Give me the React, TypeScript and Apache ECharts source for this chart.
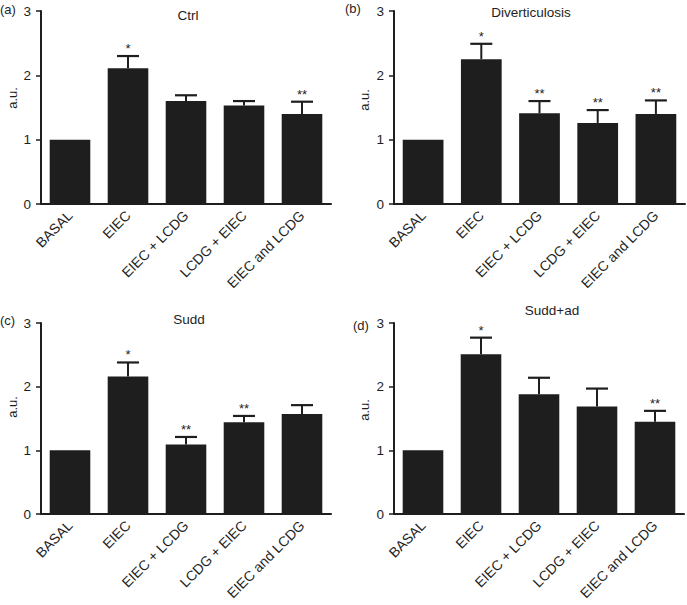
import React, { useEffect, useRef } from "react";
import * as echarts from "echarts";

const categories = ["BASAL", "EIEC", "EIEC + LCDG", "LCDG + EIEC", "EIEC and LCDG"];
const yTicks = [0, 1, 2, 3];

const panelLetters = ["(a)", "(b)", "(c)", "(d)"];
const panelTitles = ["Ctrl", "Diverticulosis", "Sudd", "Sudd+ad"];

const ctrlMean = [1.0, 2.11, 1.6, 1.53, 1.4];
const ctrlErr = [0, 0.19, 0.09, 0.07, 0.19];
const ctrlSig = ["", "*", "", "", "**"];

const divMean = [1.0, 2.25, 1.41, 1.26, 1.4];
const divErr = [0, 0.24, 0.19, 0.2, 0.21];
const divSig = ["", "*", "**", "**", "**"];

const suddMean = [1.0, 2.16, 1.09, 1.44, 1.57];
const suddErr = [0, 0.22, 0.12, 0.1, 0.14];
const suddSig = ["", "*", "**", "**", ""];

const suddAdMean = [1.0, 2.51, 1.88, 1.69, 1.45];
const suddAdErr = [0, 0.26, 0.26, 0.28, 0.17];
const suddAdSig = ["", "*", "", "", "**"];

const FONT = "'Liberation Sans', Arial, sans-serif";
const INK = "#1e1e1e";

export default function App() {
  const ref = useRef<HTMLDivElement>(null);

  useEffect(() => {
    document.body.style.margin = "0";
    if (!ref.current) return;
    const chart = echarts.init(ref.current, undefined, { renderer: "svg" });

    const panels = [
      { mean: ctrlMean, err: ctrlErr, sig: ctrlSig },
      { mean: divMean, err: divErr, sig: divSig },
      { mean: suddMean, err: suddErr, sig: suddSig },
      { mean: suddAdMean, err: suddAdErr, sig: suddAdSig },
    ];

    const grids = [
      { left: 41, top: 11, width: 290, height: 193 },
      { left: 394, top: 11, width: 291, height: 193 },
      { left: 41, top: 323, width: 290, height: 191 },
      { left: 394, top: 323, width: 290, height: 191 },
    ];

    const titlePos = [
      [188, 15],
      [531, 12],
      [189, 319],
      [552, 310],
    ];
    const letterPos = [
      [0, 9],
      [345, 8],
      [0, 320],
      [353, 325],
    ];
    const auPos = [
      [12, 98],
      [364, 100],
      [12, 407],
      [364, 410],
    ];

    const series: any[] = [];
    panels.forEach((p, k) => {
      series.push({
        type: "bar",
        xAxisIndex: k,
        yAxisIndex: k,
        data: p.mean,
        barCategoryGap: "30%",
        itemStyle: { color: INK },
        silent: true,
      });
      series.push({
        type: "custom",
        xAxisIndex: k,
        yAxisIndex: k,
        silent: true,
        data: p.mean.map((m, i) => [i, m, m + p.err[i]]),
        renderItem: (params: any, api: any) => {
          const i = api.value(0);
          const m = api.value(1);
          const t = api.value(2);
          const idx = params.dataIndex;
          const children: any[] = [];
          const p0 = api.coord([i, m]);
          const p1 = api.coord([i, t]);
          if (p.err[idx] > 0) {
            children.push({
              type: "line",
              shape: { x1: p0[0], y1: p0[1], x2: p1[0], y2: p1[1] },
              style: { stroke: INK, lineWidth: 2 },
            });
            children.push({
              type: "line",
              shape: { x1: p1[0] - 11, y1: p1[1], x2: p1[0] + 11, y2: p1[1] },
              style: { stroke: INK, lineWidth: 2.2 },
            });
          }
          if (p.sig[idx]) {
            children.push({
              type: "text",
              x: p1[0],
              y: p1[1] - 1,
              style: {
                text: p.sig[idx],
                fill: INK,
                font: `13px ${FONT}`,
                textAlign: "center",
                textVerticalAlign: "bottom",
              },
            });
          }
          return { type: "group", children };
        },
      });
    });

    const option: any = {
      animation: false,
      textStyle: { fontFamily: FONT },
      grid: grids,
      xAxis: panels.map((_, k) => ({
        type: "category",
        gridIndex: k,
        data: categories,
        axisLine: { lineStyle: { color: INK, width: 2 } },
        axisTick: { alignWithLabel: true, length: 6, lineStyle: { color: INK, width: 1.5 } },
        axisLabel: { rotate: 45, margin: 9, fontSize: 14, color: INK, fontFamily: FONT, interval: 0 },
      })),
      yAxis: panels.map((_, k) => ({
        type: "value",
        gridIndex: k,
        min: yTicks[0],
        max: yTicks[yTicks.length - 1],
        interval: 1,
        splitLine: { show: false },
        axisLine: { show: true, lineStyle: { color: INK, width: 2 } },
        axisTick: { show: true, length: 5, lineStyle: { color: INK, width: 1.5 } },
        axisLabel: { margin: 10, fontSize: 13.5, color: INK, fontFamily: FONT },
      })),
      graphic: [
        ...panelTitles.map((t, k) => ({
          type: "text",
          x: titlePos[k][0],
          y: titlePos[k][1],
          style: {
            text: t,
            font: `13.5px ${FONT}`,
            fill: INK,
            textAlign: "center",
            textVerticalAlign: "middle",
          },
        })),
        ...panelLetters.map((t, k) => ({
          type: "text",
          x: letterPos[k][0],
          y: letterPos[k][1],
          style: { text: t, font: `13px ${FONT}`, fill: INK, textVerticalAlign: "middle" },
        })),
        ...auPos.map((pos) => ({
          type: "text",
          x: pos[0],
          y: pos[1],
          rotation: Math.PI / 2,
          style: {
            text: "a.u.",
            font: `13px ${FONT}`,
            fill: INK,
            textAlign: "center",
            textVerticalAlign: "middle",
          },
        })),
      ],
      series,
    };

    chart.setOption(option);
    return () => chart.dispose();
  }, []);

  return <div ref={ref} style={{ width: 687, height: 605 }} />;
}
